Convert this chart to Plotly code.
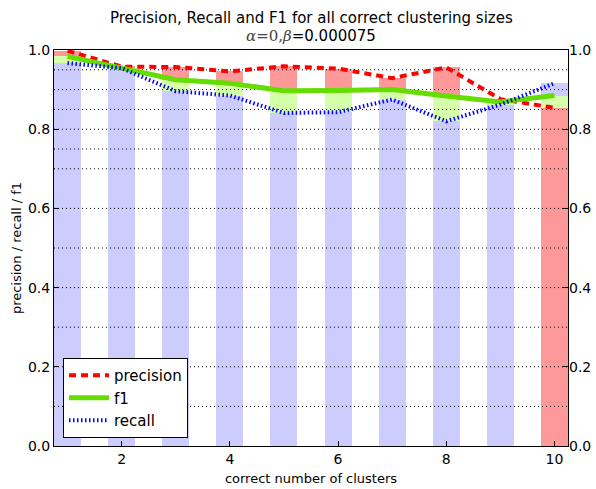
import plotly.graph_objects as go

# ---- data ----
clusters = [1, 2, 3, 4, 5, 6, 7, 8, 9, 10]
precision = [0.998, 0.958, 0.957, 0.946, 0.959, 0.953, 0.929, 0.956, 0.876, 0.854]
recall = [0.967, 0.954, 0.896, 0.885, 0.841, 0.843, 0.875, 0.820, 0.862, 0.916]
f1 = [0.984, 0.956, 0.925, 0.916, 0.897, 0.898, 0.900, 0.884, 0.869, 0.885]
grid_levels = [0.1, 0.2, 0.3, 0.4, 0.5, 0.6, 0.7, 0.75, 0.8, 0.85, 0.9, 0.95]
y_ticks = [0.0, 0.2, 0.4, 0.6, 0.8, 1.0]
x_ticks = [2, 4, 6, 8, 10]

RED_L = "#ff9999"
BLUE_L = "#ccccff"
GREEN_L = "#d6ffaa"
BAR_W = 0.5
X_MIN, X_MAX = 0.75, 10.25

fig = go.Figure()

# stacked background bars: min(p,r) -> f1 (green) -> max(p,r)
low_h, low_c, mid_b, mid_h, top_b, top_h, top_c = [], [], [], [], [], [], []
for p, r, f in zip(precision, recall, f1):
    lo, hi = min(p, r), max(p, r)
    low_h.append(lo)
    low_c.append(RED_L if p < r else BLUE_L)
    mid_b.append(lo)
    mid_h.append(max(f - lo, 0))
    top_b.append(f)
    top_h.append(max(hi - f, 0))
    top_c.append(RED_L if p > r else BLUE_L)

common = dict(x=clusters, width=BAR_W, showlegend=False, hoverinfo="skip")
fig.add_trace(go.Bar(y=low_h, base=[0] * len(clusters), marker=dict(color=low_c, line=dict(width=0)), **common))
fig.add_trace(go.Bar(y=mid_h, base=mid_b, marker=dict(color=GREEN_L, line=dict(width=0)), **common))
fig.add_trace(go.Bar(y=top_h, base=top_b, marker=dict(color=top_c, line=dict(width=0)), **common))

# dotted grid drawn above bars, below the lines
for g in grid_levels:
    fig.add_trace(go.Scatter(x=[X_MIN, X_MAX], y=[g, g], mode="lines",
                             line=dict(color="black", width=1, dash="1px,3px"),
                             showlegend=False, hoverinfo="skip"))

fig.add_trace(go.Scatter(x=clusters, y=precision, name="precision", mode="lines",
                         line=dict(color="#ff0000", width=4, dash="7px,5px")))
fig.add_trace(go.Scatter(x=clusters, y=f1, name="f1", mode="lines",
                         line=dict(color="#66dd00", width=5)))
fig.add_trace(go.Scatter(x=clusters, y=recall, name="recall", mode="lines",
                         line=dict(color="#0000ff", width=4, dash="1.5px,2.5px")))
# invisible trace for right-side axis
fig.add_trace(go.Scatter(x=[X_MIN], y=[0], yaxis="y2", mode="markers",
                         marker=dict(opacity=0), showlegend=False, hoverinfo="skip"))

font = "DejaVu Sans"
tick_font = dict(family=font, size=14, color="black")
axis_common = dict(showline=True, linecolor="black", linewidth=1, mirror=True,
                   ticks="inside", ticklen=5, tickcolor="black", showgrid=False,
                   zeroline=False, automargin=False, tickfont=tick_font)

fig.update_layout(
    width=596, height=489,
    margin=dict(l=54, r=28, t=50, b=43, autoexpand=False),
    paper_bgcolor="white", plot_bgcolor="white",
    barmode="overlay", bargap=0,
    font=dict(family=font, color="black"),
    xaxis=dict(range=[X_MIN, X_MAX], tickvals=x_ticks, ticktext=[str(v) for v in x_ticks],
               title=dict(text="correct number of clusters", font=dict(size=13), standoff=8),
               **axis_common),
    yaxis=dict(range=[0, 1], tickvals=y_ticks, ticktext=[f"{v:.1f}" for v in y_ticks],
               title=dict(text="precision / recall / f1", font=dict(size=13), standoff=3),
               **axis_common),
    yaxis2=dict(range=[0, 1], tickvals=y_ticks, ticktext=[f"{v:.1f}" for v in y_ticks],
                overlaying="y", side="right", showline=False, ticks="inside", ticklen=5,
                tickcolor="black", showgrid=False, zeroline=False, automargin=False,
                tickfont=tick_font),
    legend=dict(x=0.0175, y=0.02, xanchor="left", yanchor="bottom",
                bgcolor="white", bordercolor="black", borderwidth=1, itemwidth=40,
                font=dict(family=font, size=15), tracegroupgap=0),
    annotations=[
        dict(text="Precision, Recall and F1 for all correct clustering sizes",
             xref="paper", yref="paper", x=0.5, y=1.081, xanchor="center", yanchor="middle",
             showarrow=False, font=dict(family=font, size=15, color="black")),
        dict(text="<span style='font-family:DejaVu Serif;color:#444'><i>α</i>=0,<i>β</i></span>=0.000075",
             xref="paper", yref="paper", x=0.5, y=1.035, xanchor="center", yanchor="middle",
             showarrow=False, font=dict(family=font, size=15, color="black")),
    ],
)

fig.write_html(
    "out.html",
    config={"displayModeBar": False},
    post_script="document.body.style.margin='0';document.body.style.overflow='hidden';",
)
